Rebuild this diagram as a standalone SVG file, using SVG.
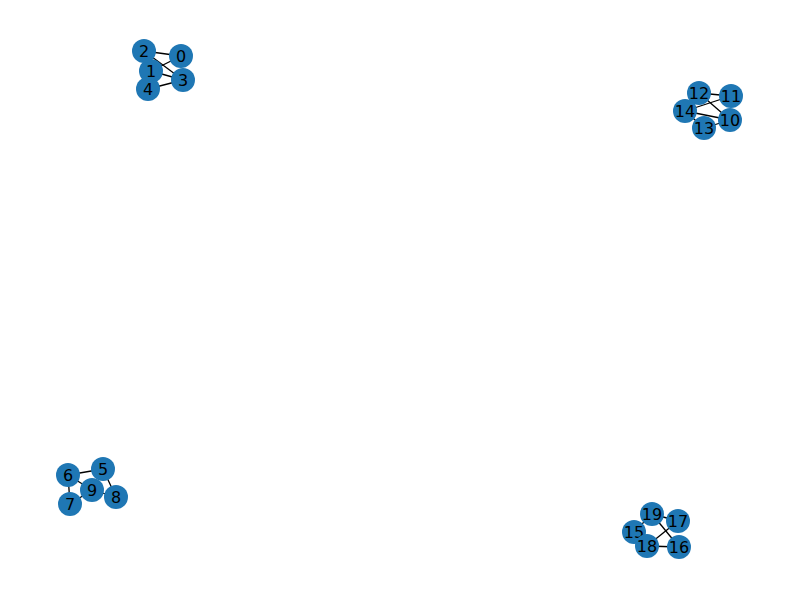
<svg xmlns="http://www.w3.org/2000/svg" width="800" height="600" viewBox="0 0 800 600">
<style>
.e{stroke:#000;stroke-width:1.3}
.n circle{fill:#1f77b4}
.n text{font-family:"DejaVu Sans",sans-serif;font-size:16px;fill:#000;text-anchor:middle;dominant-baseline:central}
</style>
<rect width="800" height="600" fill="#fff"/>
<g id="edges">
<line class="e" x1="181" y1="56" x2="144" y2="51"/>
<line class="e" x1="181" y1="56" x2="151" y2="71"/>
<line class="e" x1="183" y1="80" x2="151" y2="71"/>
<line class="e" x1="183" y1="80" x2="144" y2="51"/>
<line class="e" x1="183" y1="80" x2="148" y2="89"/>
<line class="e" x1="731" y1="96" x2="699" y2="93"/>
<line class="e" x1="731" y1="96" x2="685" y2="111"/>
<line class="e" x1="730" y1="120" x2="685" y2="111"/>
<line class="e" x1="730" y1="120" x2="699" y2="93"/>
<line class="e" x1="730" y1="120" x2="704" y2="128"/>
<line class="e" x1="704" y1="128" x2="685" y2="111"/>
<line class="e" x1="103" y1="469" x2="68" y2="475"/>
<line class="e" x1="103" y1="469" x2="116" y2="497"/>
<line class="e" x1="68" y1="475" x2="70" y2="504"/>
<line class="e" x1="68" y1="475" x2="92" y2="490"/>
<line class="e" x1="70" y1="504" x2="92" y2="490"/>
<line class="e" x1="92" y1="490" x2="116" y2="497"/>
<line class="e" x1="634" y1="532" x2="652" y2="514"/>
<line class="e" x1="652" y1="514" x2="679" y2="547"/>
<line class="e" x1="647" y1="546" x2="678" y2="521"/>
<line class="e" x1="647" y1="546" x2="679" y2="547"/>
<line class="e" x1="634" y1="532" x2="647" y2="546"/>
<line class="e" x1="652" y1="514" x2="678" y2="521"/>
</g>
<g id="n0" class="n"><circle cx="181" cy="56" r="12"/><text x="181" y="56">0</text></g>
<g id="n1" class="n"><circle cx="151" cy="71" r="12"/><text x="151" y="71">1</text></g>
<g id="n2" class="n"><circle cx="144" cy="51" r="12"/><text x="144" y="51">2</text></g>
<g id="n3" class="n"><circle cx="183" cy="80" r="12"/><text x="183" y="80">3</text></g>
<g id="n4" class="n"><circle cx="148" cy="89" r="12"/><text x="148" y="89">4</text></g>
<g id="n5" class="n"><circle cx="103" cy="469" r="12"/><text x="103" y="469">5</text></g>
<g id="n6" class="n"><circle cx="68" cy="475" r="12"/><text x="68" y="475">6</text></g>
<g id="n7" class="n"><circle cx="70" cy="504" r="12"/><text x="70" y="504">7</text></g>
<g id="n8" class="n"><circle cx="116" cy="497" r="12"/><text x="116" y="497">8</text></g>
<g id="n9" class="n"><circle cx="92" cy="490" r="12"/><text x="92" y="490">9</text></g>
<g id="n10" class="n"><circle cx="730" cy="120" r="12"/><text x="730" y="120">10</text></g>
<g id="n11" class="n"><circle cx="731" cy="96" r="12"/><text x="731" y="96">11</text></g>
<g id="n12" class="n"><circle cx="699" cy="93" r="12"/><text x="699" y="93">12</text></g>
<g id="n13" class="n"><circle cx="704" cy="128" r="12"/><text x="704" y="128">13</text></g>
<g id="n14" class="n"><circle cx="685" cy="111" r="12"/><text x="685" y="111">14</text></g>
<g id="n15" class="n"><circle cx="634" cy="532" r="12"/><text x="634" y="532">15</text></g>
<g id="n16" class="n"><circle cx="679" cy="547" r="12"/><text x="679" y="547">16</text></g>
<g id="n17" class="n"><circle cx="678" cy="521" r="12"/><text x="678" y="521">17</text></g>
<g id="n18" class="n"><circle cx="647" cy="546" r="12"/><text x="647" y="546">18</text></g>
<g id="n19" class="n"><circle cx="652" cy="514" r="12"/><text x="652" y="514">19</text></g>
</svg>
